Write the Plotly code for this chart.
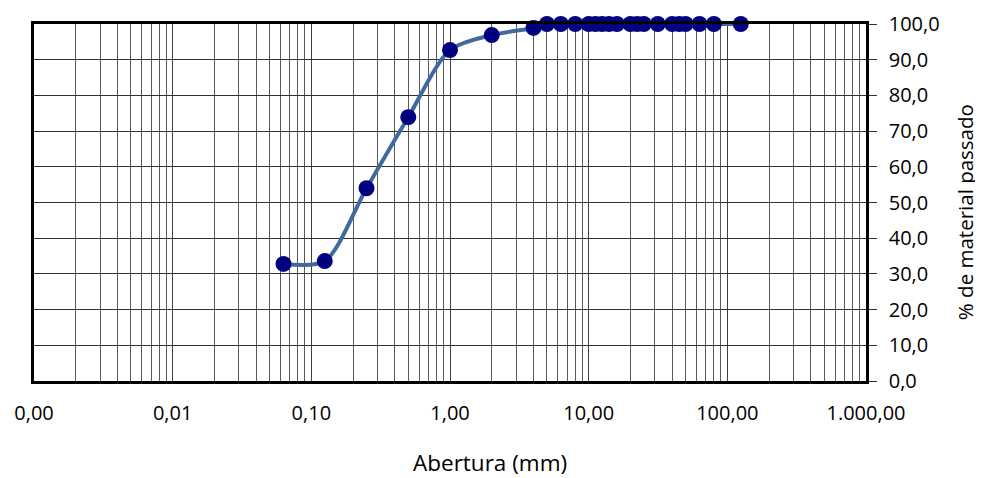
import plotly.graph_objects as go

abertura_mm = [0.063, 0.125, 0.25, 0.5, 1.0, 2.0, 4.0, 5.0, 6.3, 8.0, 10.0, 11.2, 12.5, 14.0, 16.0,
               20.0, 22.4, 25.0, 31.5, 40.0, 45.0, 50.0, 63.0, 80.0, 125.0]
passado_pct = [32.8, 33.6, 54.0, 73.9, 92.7, 96.9, 98.9, 100, 100, 100, 100, 100, 100, 100, 100,
               100, 100, 100, 100, 100, 100, 100, 100, 100, 100]

x_tickvals = [0.001, 0.01, 0.1, 1, 10, 100, 1000]
x_ticktext = ["0,00", "0,01", "0,10", "1,00", "10,00", "100,00", "1.000,00"]
y_tickvals = [0, 10, 20, 30, 40, 50, 60, 70, 80, 90, 100]
y_ticktext = ["0,0", "10,0", "20,0", "30,0", "40,0", "50,0", "60,0", "70,0", "80,0", "90,0", "100,0"]

fig = go.Figure()
fig.add_trace(go.Scatter(
    x=abertura_mm, y=passado_pct, mode="lines+markers",
    line=dict(color="#3E6A9E", width=4, shape="spline", smoothing=0.8),
    marker=dict(color="#000080", size=16),
    showlegend=False, cliponaxis=False,
))

font = "'Open Sans', Lato, sans-serif"
fig.update_layout(
    width=975, height=470,
    margin=dict(l=26, r=117, t=16, b=97, autoexpand=False),
    paper_bgcolor="white", plot_bgcolor="white",
    font=dict(family=font, size=20, color="#000000"),
    xaxis=dict(
        type="log", range=[-3, 3], automargin=False,
        tickvals=x_tickvals, ticktext=x_ticktext,
        showgrid=True, gridcolor="#404040", gridwidth=1,
        minor=dict(dtick="D1", showgrid=True, gridcolor="#5a5a5a", gridwidth=1, ticks=""),
        showline=True, linecolor="black", linewidth=2.5, mirror=True,
        ticks="", ticklabelstandoff=12,
        zeroline=False,
    ),
    yaxis=dict(
        range=[0, 100], side="right", automargin=False,
        tickvals=y_tickvals, ticktext=y_ticktext,
        showgrid=True, gridcolor="#303030", gridwidth=1,
        showline=True, linecolor="black", linewidth=2.5, mirror=True,
        ticks="outside", ticklen=8, tickcolor="#303030", ticklabelstandoff=8,
        zeroline=False,
    ),
    annotations=[
        dict(text="Abertura (mm)", xref="paper", yref="paper", x=0.548, y=-0.228,
             xanchor="center", yanchor="middle", showarrow=False, font=dict(size=22.5),
             borderpad=0),
        dict(text="% de material passado", xref="paper", yref="paper", x=1.119, y=0.473,
             xanchor="center", yanchor="middle", showarrow=False, textangle=-90,
             font=dict(size=20.5), borderpad=0),
    ],
)

fig.write_html("out.html")
